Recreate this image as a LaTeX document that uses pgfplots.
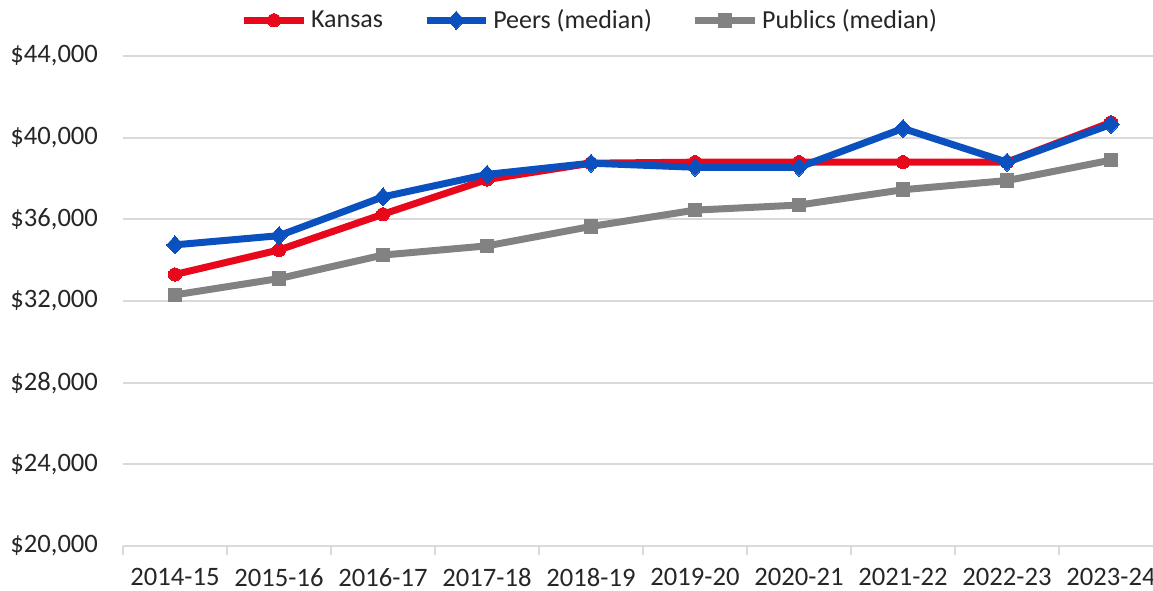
\documentclass[border=0pt]{standalone}
\usepackage{pgfplots}
\pgfplotsset{compat=1.18}
\usepackage{fontspec}
\setmainfont{Carlito}
\definecolor{kred}{RGB}{232,8,28}
\definecolor{kblue}{RGB}{10,80,190}
\definecolor{kgray}{RGB}{130,130,130}
\definecolor{gridc}{RGB}{217,217,217}
\definecolor{txt}{RGB}{38,38,38}
\begin{document}
\begin{tikzpicture}
\begin{axis}[
  at={(61.5pt,22pt)}, anchor=south west,
  scale only axis, width=520pt, height=245pt,
  xmin=-0.5, xmax=9.5, ymin=20000, ymax=44000,
  xtick={0,...,9},
  xticklabels={2014-15,2015-16,2016-17,2017-18,2018-19,2019-20,2020-21,2021-22,2022-23,2023-24},
  minor xtick={-0.5,0.5,...,9.5},
  ytick={20000,24000,...,44000},
  ymajorgrids, grid style={gridc, line width=0.9pt},
  axis line style={draw=none},
  major tick length=0pt, minor tick length=4.5pt,
  tick align=outside, xtick pos=bottom, ytick pos=left,
  minor x tick style={gridc, line width=0.9pt},
  /pgf/number format/assume math mode=true,
  /pgf/number format/1000 sep={,},
  yticklabel={\$\pgfmathprintnumber{\tick}},
  scaled y ticks=false,
  ticklabel style={font=\fontsize{13.3pt}{15pt}\selectfont, text=txt},
  yticklabel style={xshift=-9pt},
  xticklabel style={yshift=-7.5pt},
  legend style={at={(axis description cs:0.45,1.073)}, anchor=center, draw=none,
    font=\fontsize{13pt}{15pt}\selectfont, text=txt,
    /tikz/every even column/.append style={column sep=18pt}},
  legend columns=3, legend cell align=left,
  legend image code/.code={\draw[mark repeat=2,mark phase=2] plot coordinates {(0cm,0cm)(0.52cm,0cm)(1.04cm,0cm)};},
  every axis plot/.append style={line width=3.5pt},
]
\addplot[kred, mark=*, mark size=3.3pt, mark options={solid, line width=0pt}] coordinates {
(0,33300)(1,34500)(2,36250)(3,37950)(4,38750)(5,38800)(6,38800)(7,38800)(8,38800)(9,40750)};
\addlegendentry{Kansas}
\addplot[kblue, mark=diamond*, mark size=4.5pt, mark options={solid, line width=0pt, xscale=1.25}] coordinates {
(0,34750)(1,35200)(2,37100)(3,38200)(4,38750)(5,38550)(6,38550)(7,40450)(8,38800)(9,40650)};
\addlegendentry{Peers (median)}
\addplot[kgray, mark=square*, mark size=3.4pt, mark options={solid, line width=0pt}] coordinates {
(0,32300)(1,33100)(2,34250)(3,34700)(4,35650)(5,36450)(6,36700)(7,37450)(8,37900)(9,38900)};
\addlegendentry{Publics (median)}
\end{axis}
\pgfresetboundingbox
\useasboundingbox (0,0) rectangle (576.5pt,295pt);
\end{tikzpicture}
\end{document}
